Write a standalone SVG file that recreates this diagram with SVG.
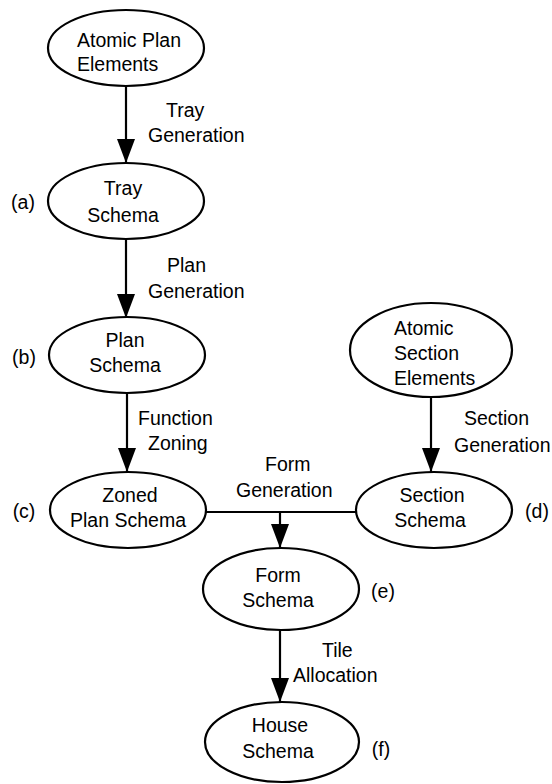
<svg xmlns="http://www.w3.org/2000/svg" width="552" height="784" viewBox="0 0 552 784">
<style>
  .n { fill: #fff; stroke: #000; stroke-width: 2.2; }
  .t { font-family: "Liberation Sans", Arial, sans-serif; font-size: 19.5px; fill: #000; }
  .c { text-anchor: middle; }
  .e { stroke: #000; stroke-width: 2.2; fill: none; }
</style>
<defs>
  <marker id="ah" viewBox="0 0 24 18" refX="24" refY="9" markerWidth="24" markerHeight="18" markerUnits="userSpaceOnUse" orient="auto">
    <path d="M0,0 L24,9 L0,18 z" fill="#000"/>
  </marker>
</defs>
<rect width="552" height="784" fill="#fff"/>
<g id="connectors">
  <line class="e" x1="126" y1="86" x2="126" y2="163" marker-end="url(#ah)"/>
  <line class="e" x1="126" y1="240" x2="126" y2="318" marker-end="url(#ah)"/>
  <line class="e" x1="127" y1="393" x2="127" y2="472" marker-end="url(#ah)"/>
  <line class="e" x1="431" y1="397" x2="431" y2="472" marker-end="url(#ah)"/>
  <line class="e" x1="206" y1="512" x2="357" y2="512"/>
  <line class="e" x1="280" y1="512" x2="280" y2="548" marker-end="url(#ah)"/>
  <line class="e" x1="280" y1="630" x2="280" y2="702" marker-end="url(#ah)"/>
  <text class="t" x="166" y="117">Tray</text>
  <text class="t" x="148" y="142">Generation</text>
  <text class="t" x="167" y="272">Plan</text>
  <text class="t" x="148" y="298">Generation</text>
  <text class="t" x="138" y="425">Function</text>
  <text class="t" x="148" y="450">Zoning</text>
  <text class="t" x="464" y="425">Section</text>
  <text class="t" x="454" y="452">Generation</text>
  <text class="t" x="265" y="471">Form</text>
  <text class="t" x="236" y="497">Generation</text>
  <text class="t" x="322" y="657">Tile</text>
  <text class="t" x="293" y="682">Allocation</text>
</g>
<g id="atomic-plan">
  <ellipse class="n" cx="126" cy="48" rx="78" ry="38"/>
  <text class="t" x="77" y="47">Atomic Plan</text>
  <text class="t" x="77" y="71">Elements</text>
</g>
<g id="tray">
  <ellipse class="n" cx="126" cy="201" rx="78" ry="38"/>
  <text class="t c" x="123" y="195">Tray</text>
  <text class="t c" x="123" y="222">Schema</text>
  <text class="t c" x="23" y="209">(a)</text>
</g>
<g id="plan">
  <ellipse class="n" cx="127" cy="355" rx="78" ry="38"/>
  <text class="t c" x="125" y="347">Plan</text>
  <text class="t c" x="125" y="372">Schema</text>
  <text class="t c" x="24" y="364">(b)</text>
</g>
<g id="zoned">
  <ellipse class="n" cx="128" cy="510" rx="78" ry="38"/>
  <text class="t c" x="130" y="502">Zoned</text>
  <text class="t c" x="128" y="527">Plan Schema</text>
  <text class="t c" x="24" y="518">(c)</text>
</g>
<g id="atomic-section">
  <ellipse class="n" cx="431" cy="350" rx="81" ry="47"/>
  <text class="t" x="394" y="335">Atomic</text>
  <text class="t" x="394" y="360">Section</text>
  <text class="t" x="394" y="385">Elements</text>
</g>
<g id="section">
  <ellipse class="n" cx="434" cy="510" rx="78" ry="38"/>
  <text class="t c" x="432" y="502">Section</text>
  <text class="t c" x="430" y="527">Schema</text>
  <text class="t c" x="537" y="518">(d)</text>
</g>
<g id="form">
  <ellipse class="n" cx="281" cy="589" rx="78" ry="41"/>
  <text class="t c" x="278" y="582">Form</text>
  <text class="t c" x="278" y="607">Schema</text>
  <text class="t c" x="383" y="598">(e)</text>
</g>
<g id="house">
  <ellipse class="n" cx="282" cy="742" rx="77" ry="40"/>
  <text class="t c" x="280" y="732">House</text>
  <text class="t c" x="278" y="758">Schema</text>
  <text class="t c" x="381" y="756">(f)</text>
</g>
</svg>
